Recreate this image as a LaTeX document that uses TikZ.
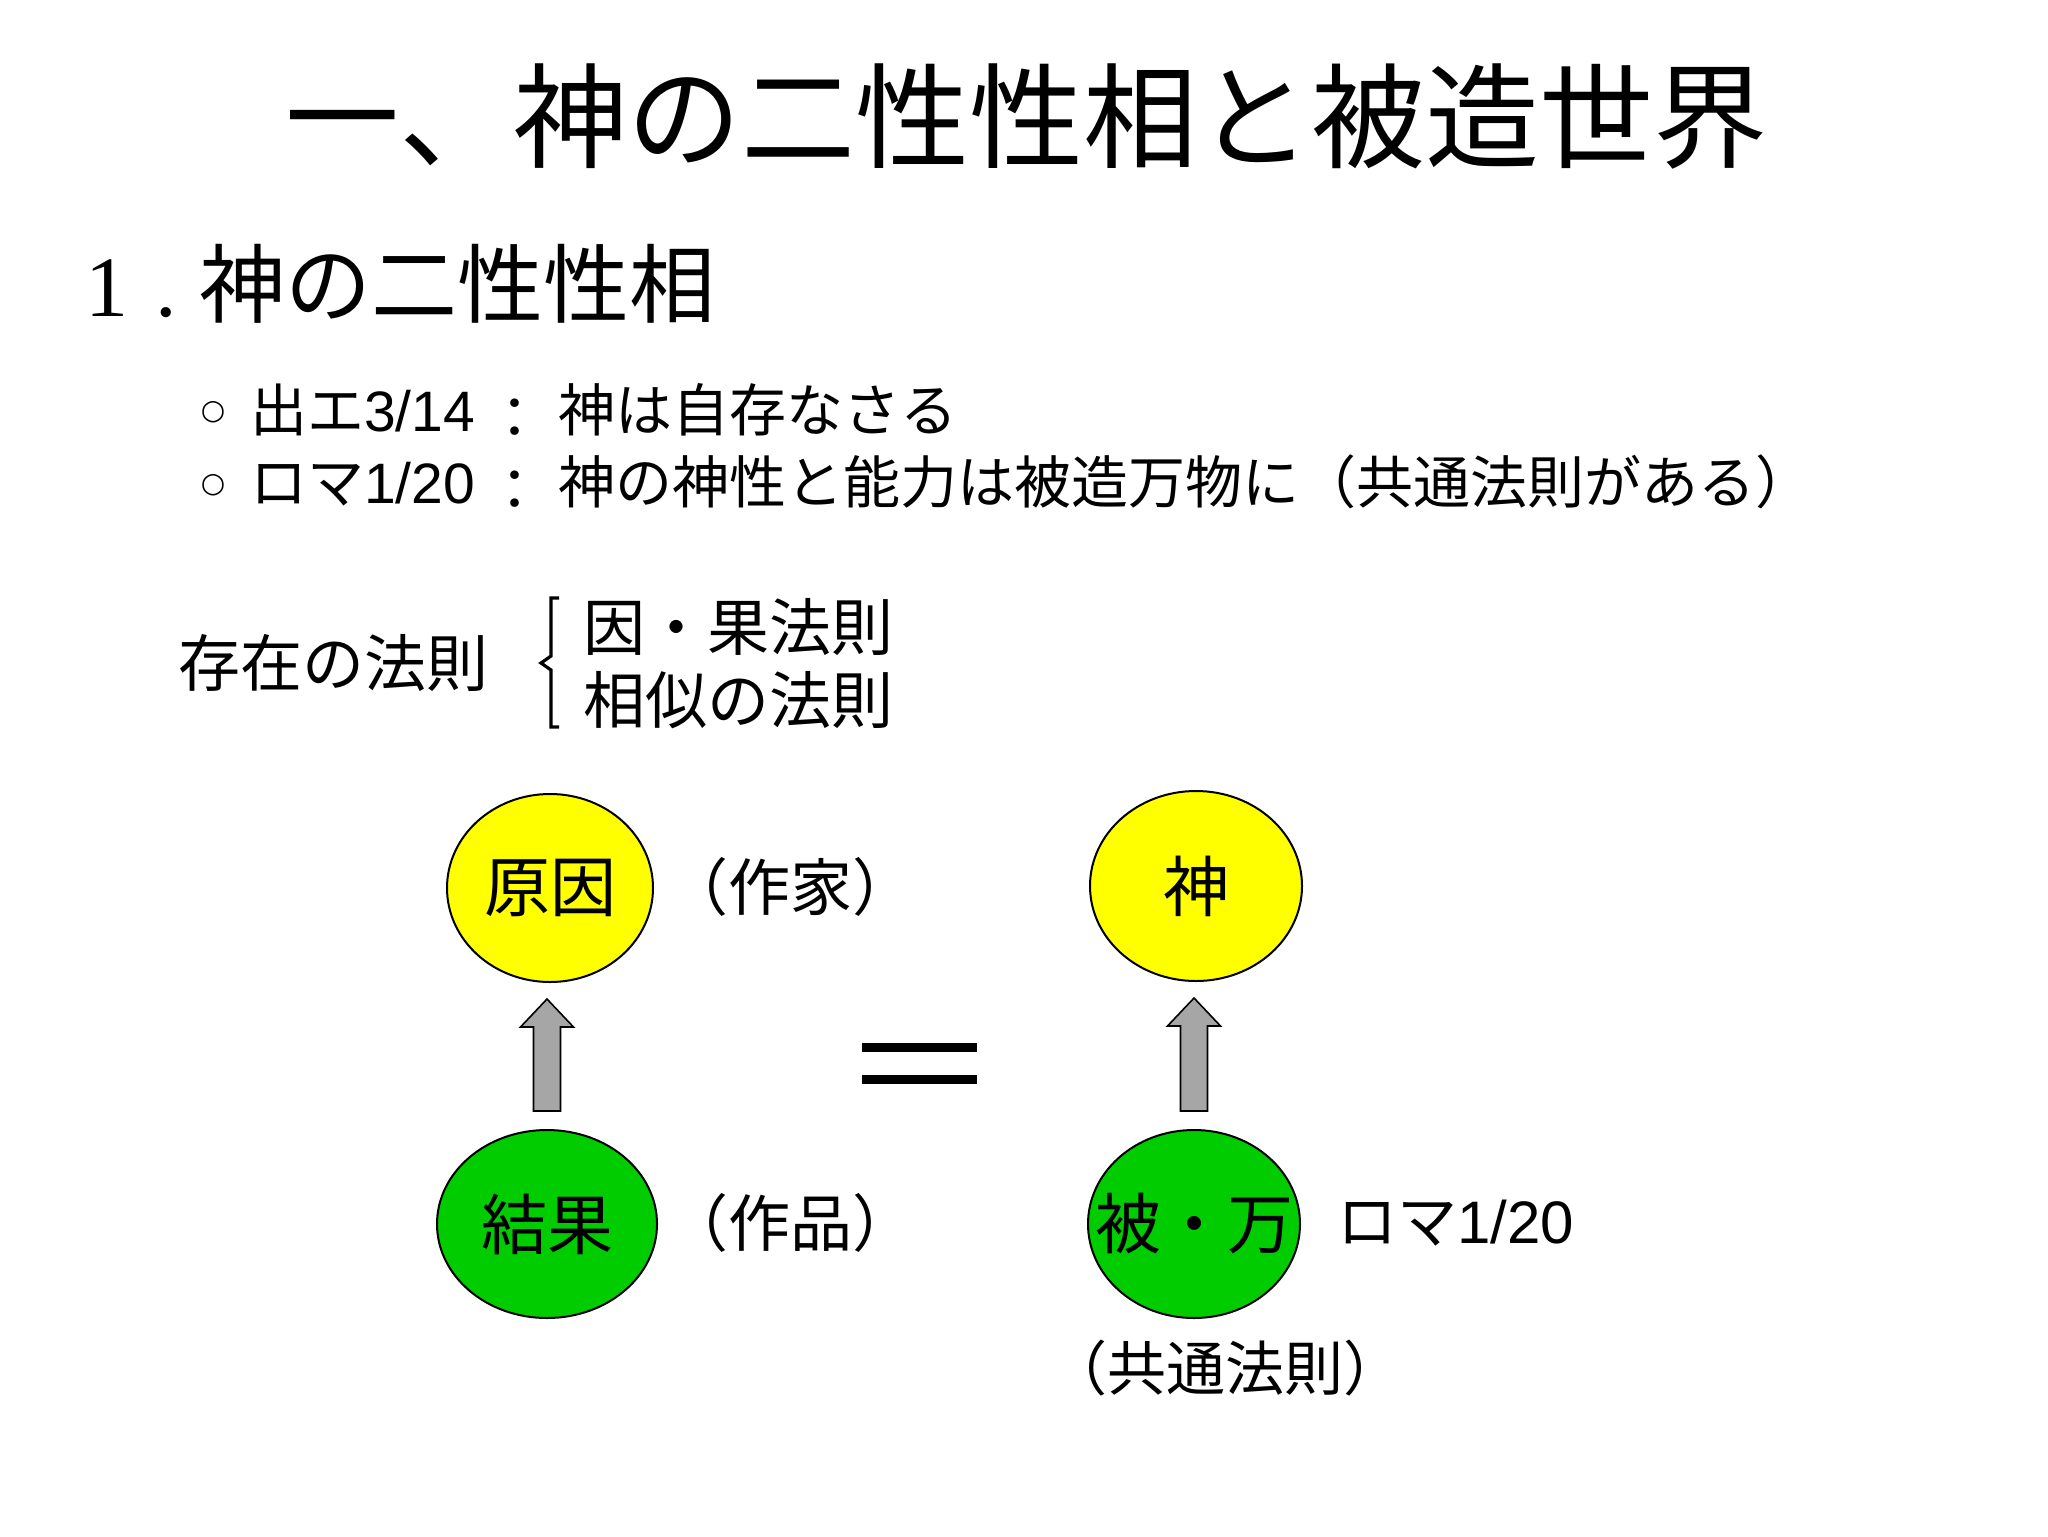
\documentclass[tikz,border=0pt]{standalone}
\usepackage{fontspec}
\setmainfont{Liberation Sans}
\newfontfamily\jp{Noto Sans CJK JP}
\newfontfamily\serifnum{Liberation Serif}
\newfontfamily\dv{DejaVu Sans}
\usetikzlibrary{shapes.geometric,calc}
\definecolor{ovyellow}{RGB}{255,255,0}
\definecolor{ovgreen}{RGB}{0,204,0}
\definecolor{arrowgray}{RGB}{166,166,166}
\newcommand\fs[1]{\fontsize{#1pt}{#1pt}\selectfont}
\newcommand\blockarrow[2]{%
  \draw[barrow] let \p1=($(#1.north)+(0,-18)$), \p2=($(#2.south)+(0,16)$) in
    (\x1-6.75pt,\y1) -- (\x1-6.75pt,\y2-14pt) -- (\x1-13.25pt,\y2-14pt) --
    (\x1,\y2) -- (\x1+13.25pt,\y2-14pt) -- (\x1+6.75pt,\y2-14pt) --
    (\x1+6.75pt,\y1) -- cycle;}
\begin{document}
\begin{tikzpicture}[x=0.5pt,y=-0.5pt,
  txt/.style={inner sep=0pt, outer sep=0pt, text=black},
  oval/.style={ellipse, draw=black, line width=1pt, inner sep=0pt},
  barrow/.style={draw=black, fill=arrowgray, line width=0.8pt, line join=miter},
  bracket/.style={draw=black, line width=1.6pt},
  eqbar/.style={draw=black, line width=4.5pt},
]
\useasboundingbox[fill=white] (0,0) rectangle (2048,1536);

% title
\node[txt, anchor=west] (title) at (285,117) {\jp\fs{57}一、神の二性性相と被造世界};
% subtitle
\node[txt, anchor=base west] (sub) at (85,316) {\fs{43}{\serifnum 1\hspace{14pt}.}\hspace{10.75pt}{\jp 神の二性性相}};

% bullet rows
\node[txt] (b1) at (213,412) {\dv\fs{14}○};
\node[txt, anchor=base west] (r1a) at (250,431) {\fs{28.5}{\jp 出エ}3/14};
\node[txt] (r1c) at (515,419) {\jp\fs{28.5}：};
\node[txt, anchor=base west] (r1b) at (558,431) {\jp\fs{28.5}神は自存なさる};

\node[txt] (b2) at (213,485) {\dv\fs{14}○};
\node[txt, anchor=base west] (r2a) at (250,503) {\fs{28.5}{\jp ロマ}1/20};
\node[txt] (r2c) at (515,491) {\jp\fs{28.5}：};
\node[txt, anchor=base west] (r2b) at (558,503) {\jp\fs{28.5}神の神性と能力は被造万物に（共通法則がある）};

% law of existence
\node[txt, anchor=west] (law) at (178,663) {\jp\fs{31}存在の法則};
\node[txt, anchor=west] (law1) at (583,627) {\jp\fs{31}因・果法則};
\node[txt, anchor=west] (law2) at (583,700) {\jp\fs{31}相似の法則};
\coordinate (brtop) at (559,598);
\coordinate (brmid) at (541,663);
\coordinate (brbot) at (559,727);
\draw[bracket] (brtop) -- (551,598) -- (551,656) -- (brmid) -- (551,670) -- (551,727) -- (brbot);

% ellipses
\node[oval, fill=ovyellow, minimum width=103pt, minimum height=94pt] (cause) at (550,888) {};
\node[oval, fill=ovgreen, minimum width=110pt, minimum height=94pt] (effect) at (547,1224) {};
\node[oval, fill=ovyellow, minimum width=106pt, minimum height=95pt] (god) at (1196,886) {};
\node[oval, fill=ovgreen, minimum width=106pt, minimum height=94pt] (world) at (1194,1224) {};

\node[txt] (causet) at (cause.center) {\jp\fs{33}原因};
\node[txt] (effectt) at (effect.center) {\jp\fs{33}結果};
\node[txt] (godt) at (god.center) {\jp\fs{33}神};
\node[txt] (worldt) at (world.center) {\jp\fs{33}被・万};

% block arrows
\blockarrow{effect}{cause}
\blockarrow{world}{god}

% labels
\node[txt] (author) at (790,887) {\jp\fs{31}（作家）};
\node[txt] (work) at (790,1223) {\jp\fs{31}（作品）};
\node[txt, anchor=base west] (rom) at (1337,1243) {\fs{30}{\jp ロマ}1/20};
\node[txt] (common) at (1225,1368) {\jp\fs{29.5}（共通法則）};

% equals sign
\coordinate (eqa1) at (862,1047);
\coordinate (eqa2) at (977,1047);
\coordinate (eqb1) at (862,1079);
\coordinate (eqb2) at (977,1079);
\draw[eqbar] (eqa1) -- (eqa2);
\draw[eqbar] (eqb1) -- (eqb2);
\end{tikzpicture}
\end{document}
